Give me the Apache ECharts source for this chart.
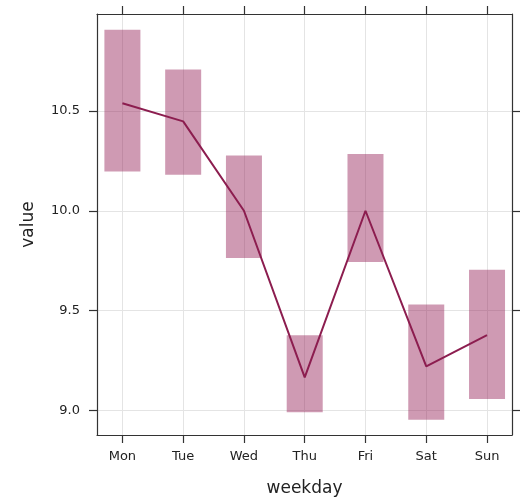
<!DOCTYPE html>
<html><head><meta charset="utf-8">
<script src="https://cdn.jsdelivr.net/npm/echarts@6/dist/echarts.min.js"></script>
<style>html,body{margin:0;padding:0;background:#fff}#c{width:530px;height:502px}</style>
</head><body><div id="c"></div>
<script>
const categories = ['Mon','Tue','Wed','Thu','Fri','Sat','Sun'];
const meanValues = [10.539, 10.448, 10.0, 9.165, 10.0, 9.22, 9.376];
const lowValues  = [10.197, 10.181, 9.763, 8.99, 9.743, 8.952, 9.056];
const highValues = [10.907, 10.708, 10.277, 9.376, 10.285, 9.53, 9.704];
const yTicks = [9.0, 9.5, 10.0, 10.5];
const xTicks = categories.map((c, i) => i);

const FONT = 'DejaVu Sans';
const AX = '#333';
const GRIDC = '#e4e4e4';

const chart = echarts.init(document.getElementById('c'), null, {renderer: 'canvas'});

function xAxisCfg(pos, main) {
  return {
    type: 'value', position: pos, min: -0.418, max: 6.411,
    axisLine: {show: true, onZero: false, lineStyle: {color: AX, width: 1.2}},
    axisTick: {show: true, inside: false, length: 8, customValues: xTicks, lineStyle: {color: AX, width: 1.2}},
    axisLabel: main ? {show: true, customValues: xTicks, formatter: v => categories[Math.round(v)], margin: 15, fontSize: 13, fontFamily: FONT, color: '#222'} : {show: false},
    splitLine: main ? {show: true, lineStyle: {color: GRIDC, width: 1}} : {show: false},
    name: main ? 'weekday' : '', nameLocation: 'middle', nameGap: 45,
    nameTextStyle: {fontSize: 17, fontFamily: FONT, color: '#222'}
  };
}
function yAxisCfg(pos, main) {
  return {
    type: 'value', position: pos, min: 8.8756, max: 10.9866,
    axisLine: {show: true, onZero: false, lineStyle: {color: AX, width: 1.2}},
    axisTick: {show: true, inside: false, length: 8, customValues: yTicks, lineStyle: {color: AX, width: 1.2}},
    axisLabel: main ? {show: true, customValues: yTicks, formatter: v => v.toFixed(1), margin: 17, fontSize: 13, fontFamily: FONT, color: '#222'} : {show: false},
    splitLine: main ? {show: true, lineStyle: {color: GRIDC, width: 1}} : {show: false},
    name: main ? 'value' : '', nameLocation: 'middle', nameGap: 60, nameRotate: 90,
    nameTextStyle: {fontSize: 17, fontFamily: FONT, color: '#222'}
  };
}

chart.setOption({
  animation: false,
  backgroundColor: '#fff',
  grid: {left: 97, top: 14, right: 18, bottom: 64, containLabel: false},
  xAxis: [xAxisCfg('bottom', true), xAxisCfg('top', false)],
  yAxis: [yAxisCfg('left', true), yAxisCfg('right', false)],
  series: [
    {
      type: 'custom',
      xAxisIndex: 0, yAxisIndex: 0,
      data: categories.map((c, i) => [i, lowValues[i], highValues[i]]),
      encode: {x: 0, y: [1, 2]},
      renderItem: function (params, api) {
        const lo = api.coord([api.value(0), api.value(1)]);
        const hi = api.coord([api.value(0), api.value(2)]);
        const w = 36;
        return {
          type: 'rect',
          shape: {x: lo[0] - w / 2, y: hi[1], width: w, height: lo[1] - hi[1]},
          style: {fill: 'rgba(150,35,90,0.46)'}
        };
      },
      z: 2
    },
    {
      type: 'line',
      xAxisIndex: 0, yAxisIndex: 0,
      data: categories.map((c, i) => [i, meanValues[i]]),
      symbol: 'none',
      lineStyle: {color: '#8c1d4f', width: 2},
      itemStyle: {color: '#8c1d4f'},
      z: 3
    }
  ]
});
</script></body></html>
